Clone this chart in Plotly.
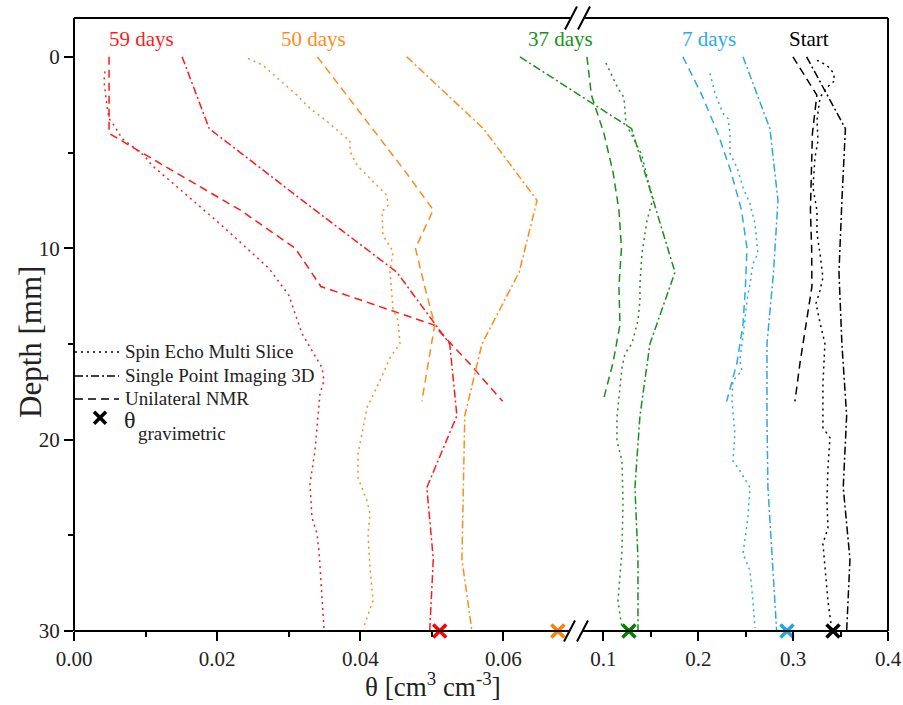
import plotly.graph_objects as go

# ---------------- data ----------------
SPI_DEPTH = [0, 3.75, 7.5, 11.25, 15, 18.75, 22.5, 26.25, 30]
UNI_DEPTH = [0, 2, 4, 6, 8, 10, 12, 14, 16, 18]

# 59 days
spi_59 = [0.0151, 0.0189, 0.0319, 0.0451, 0.0525, 0.0535, 0.0493, 0.0502, 0.0497]
uni_59 = [0.0049, 0.0049, 0.0049, 0.0140, 0.0232, 0.0309, 0.0345, 0.0502, 0.0552, 0.0599]
sems_59_d = [0.76, 1.28, 2.59, 3.22, 3.58, 4.26, 5.15, 5.67, 6.88, 8.82, 11.06, 12.47, 13.41,
             14.46, 15.35, 16.24, 16.92, 17.6, 20.58, 22.31, 24.08, 24.92, 25.81, 28.43, 29.89]
sems_59 = [0.00433, 0.00419, 0.00461, 0.00489, 0.00559, 0.00671, 0.00978, 0.0109, 0.01467,
           0.02068, 0.02725, 0.03004, 0.03088, 0.03186, 0.03325, 0.03465, 0.03493, 0.03437,
           0.03367, 0.03297, 0.03325, 0.03395, 0.03423, 0.03465, 0.03493]

# 50 days
spi_50 = [0.0465, 0.0572, 0.0647, 0.0622, 0.0570, 0.0546, 0.0544, 0.0542, 0.0556]
uni_50 = [0.0340, 0.0381, 0.0422, 0.0463, 0.0502, 0.0477, 0.0490, 0.0504, 0.0495, 0.0486]
sems_50_d = [0.08, 0.44, 1.23, 2.01, 2.69, 3.37, 4.11, 4.37, 4.94, 5.67, 6.51, 7.24, 7.77, 8.08,
             9.33, 10.17, 11.22, 13.15, 13.78, 14.98, 15.72, 16.92, 18.33, 19.69, 20.74, 21.99,
             23.2, 23.88, 24.92, 26.7, 28.43, 29.89]
sems_50 = [0.02431, 0.02641, 0.02878, 0.03116, 0.03297, 0.03535, 0.03759, 0.03856, 0.03856,
           0.03954, 0.04178, 0.04373, 0.04387, 0.04304, 0.04317, 0.04457, 0.04415, 0.04457,
           0.04527, 0.04555, 0.04415, 0.04275, 0.04094, 0.04024, 0.03968, 0.03968, 0.04094,
           0.04136, 0.04108, 0.04136, 0.04178, 0.04038]

# 37 days
spi_37 = [0.0623, 0.1297, 0.1525, 0.1754, 0.1490, 0.1385, 0.1332, 0.1364, 0.1364]
uni_37 = [0.0826, 0.0873, 0.1005, 0.1100, 0.1163, 0.1190, 0.1163, 0.1174, 0.1100, 0.0995]
sems_37_d = [0.32, 1.65, 2.12, 3.48, 4.21, 5.15, 6.46, 7.4, 8.55, 10.28, 11.85, 12.73, 13.78,
             14.98, 15.51, 16.24, 18.85, 20.06, 21.1, 23.2, 25.81, 28.43, 29.84]
sems_37 = [0.1026, 0.1153, 0.1216, 0.1237, 0.1311, 0.1406, 0.1469, 0.1522, 0.1459, 0.1406,
           0.1385, 0.1385, 0.1364, 0.1300, 0.1227, 0.1195, 0.1142, 0.1142, 0.1195, 0.1206,
           0.1195, 0.1153, 0.1195]

# 7 days
spi_7 = [0.2471, 0.2755, 0.2840, 0.2793, 0.2724, 0.2724, 0.2734, 0.2782, 0.2826]
uni_7 = [0.1838, 0.2038, 0.2207, 0.2344, 0.2455, 0.2513, 0.2497, 0.2471, 0.2407, 0.2299]
sems_7_d = [0.86, 1.91, 2.95, 3.22, 4.0, 5.05, 5.78, 6.83, 7.66, 8.71, 10.28, 10.8, 11.85, 12.73,
            14.2, 15.87, 16.4, 16.92, 17.97, 19.69, 21.1, 21.63, 22.52, 24.08, 25.96, 26.85,
            28.43, 29.84]
sems_7 = [0.2123, 0.2176, 0.2260, 0.2313, 0.2334, 0.2334, 0.2408, 0.2471, 0.2545, 0.2597,
          0.2629, 0.2576, 0.2545, 0.2513, 0.2481, 0.2439, 0.2460, 0.2365, 0.2355, 0.2386,
          0.2365, 0.2439, 0.2545, 0.2523, 0.2471, 0.2545, 0.2576, 0.2597]

# Start
spi_0 = [0.3142, 0.3551, 0.3514, 0.3483, 0.3514, 0.3564, 0.3528, 0.3599, 0.3564]
uni_0 = [0.2998, 0.3250, 0.3203, 0.3193, 0.3182, 0.3195, 0.3198, 0.3135, 0.3072, 0.3019]
sems_0_d = [0.18, 0.44, 0.81, 1.23, 1.6, 2.12, 3.32, 4.37, 5.26, 6.83, 8.03, 9.23, 10.28, 11.53,
            12.21, 12.89, 13.89, 14.98, 17.08, 19.38, 19.9, 21.47, 23.2, 24.61, 25.44, 26.7,
            28.43, 30.0]
sems_0 = [0.3251, 0.3356, 0.3420, 0.3441, 0.3356, 0.3283, 0.3251, 0.3262, 0.3230, 0.3209,
          0.3251, 0.3251, 0.3283, 0.3314, 0.3283, 0.3241, 0.3283, 0.3335, 0.3314, 0.3314,
          0.3388, 0.3367, 0.3356, 0.3367, 0.3314, 0.3335, 0.3367, 0.3409]

# gravimetric water content (plotted at depth 30)
grav_vals = [0.0511, 0.0676, 0.1269, 0.2935, 0.3420]
grav_depth = 30

series_names = ["59 days", "50 days", "37 days", "7 days", "Start"]
colors = ["#FF1A1A", "#FF8C1A", "#1A8F1A", "#2AAAE6", "#000000"]
marker_colors = ["#FF0000", "#FF8000", "#008000", "#1EA5E6", "#000000"]

# x tick values
major_ticks = [0.0, 0.02, 0.04, 0.06, 0.1, 0.2, 0.3, 0.4]
major_labels = ["0.00", "0.02", "0.04", "0.06", "0.1", "0.2", "0.3", "0.4"]
minor_ticks = [0.01, 0.03, 0.05, 0.15, 0.25, 0.35]

# ---------------- broken x scale ----------------
BREAK = 0.07
XMAX = 0.4
LEFT_LEN = 501.0     # axis units of left segment
RIGHT_LEN = 313.0    # axis units of right segment


def brk(v):
    if v <= BREAK:
        return v / BREAK * LEFT_LEN
    return LEFT_LEN + (v - BREAK) / (XMAX - BREAK) * RIGHT_LEN


def bl(vals):
    return [brk(v) for v in vals]


# page geometry (pixels)
W, H = 903, 705
PL, PR, PT, PB = 74, 888, 17.5, 631.5


def px(x):
    return (x - PL) / (PR - PL)


def py(y):
    return (PB - y) / (PB - PT)


FONT = "Liberation Serif"
DOT = "2px,4px"
DASH = "8px,5px"
DASHDOT = "8px,3px,2px,3px"

fig = go.Figure()

groups = [
    (spi_59, uni_59, sems_59_d, sems_59),
    (spi_50, uni_50, sems_50_d, sems_50),
    (spi_37, uni_37, sems_37_d, sems_37),
    (spi_7, uni_7, sems_7_d, sems_7),
    (spi_0, uni_0, sems_0_d, sems_0),
]

for (spi, uni, sd, sv), col, name in zip(groups, colors, series_names):
    fig.add_trace(go.Scatter(x=bl(sv), y=sd, mode="lines", name=name + " SEMS",
                             line=dict(color=col, width=1.5, dash=DOT), showlegend=False))
    fig.add_trace(go.Scatter(x=bl(spi), y=SPI_DEPTH, mode="lines", name=name + " SPI",
                             line=dict(color=col, width=1.5, dash=DASHDOT), showlegend=False))
    fig.add_trace(go.Scatter(x=bl(uni), y=UNI_DEPTH, mode="lines", name=name + " UNMR",
                             line=dict(color=col, width=1.5, dash=DASH), showlegend=False))

fig.add_trace(go.Scatter(x=bl(grav_vals), y=[grav_depth] * len(grav_vals), mode="markers",
                         marker=dict(symbol="x-thin", size=13, color=marker_colors,
                                     line=dict(width=3.5, color=marker_colors)),
                         cliponaxis=False, showlegend=False))

shapes = []
lk = dict(color="black", width=2)
# frame with break gaps
gap_l, gap_r = 570, 583
for y in (PT, PB):
    shapes.append(dict(type="line", xref="paper", yref="paper", x0=px(PL), x1=px(gap_l),
                       y0=py(y), y1=py(y), line=lk))
    shapes.append(dict(type="line", xref="paper", yref="paper", x0=px(gap_r), x1=px(PR),
                       y0=py(y), y1=py(y), line=lk))
for x in (PL, PR):
    shapes.append(dict(type="line", xref="paper", yref="paper", x0=px(x), x1=px(x),
                       y0=py(PT), y1=py(PB), line=lk))
# break marks
for (x0, y0, x1, y1) in [(564, 642, 575, 621), (577, 642, 588, 621),
                         (565, 29, 577, 6), (578, 29, 590, 6)]:
    shapes.append(dict(type="line", xref="paper", yref="paper", x0=px(x0), x1=px(x1),
                       y0=py(y0), y1=py(y1), line=dict(color="black", width=2)))

# manual legend
leg_rows = [("Spin Echo Multi Slice", DOT, 352), ("Single Point Imaging 3D", DASHDOT, 376),
            ("Unilateral NMR", DASH, 399)]
annotations = []
for txt, dsh, yy in leg_rows:
    shapes.append(dict(type="line", xref="paper", yref="paper", x0=px(75), x1=px(119),
                       y0=py(yy), y1=py(yy), line=dict(color="black", width=1.5, dash=dsh)))
    annotations.append(dict(text=txt, xref="paper", yref="paper", x=px(123), y=py(yy),
                            xanchor="left", yanchor="middle", showarrow=False,
                            font=dict(family=FONT, size=19, color="#222")))
# legend X
for (a, b, c, d) in [(94, 412, 106, 424), (94, 424, 106, 412)]:
    shapes.append(dict(type="line", xref="paper", yref="paper", x0=px(a), x1=px(c),
                       y0=py(b), y1=py(d), line=dict(color="black", width=3.5)))
annotations.append(dict(text="θ", xref="paper", yref="paper",
                        x=px(122), y=py(420), xanchor="left", yanchor="middle",
                        showarrow=False, font=dict(family=FONT, size=24, color="#222")))
annotations.append(dict(text="gravimetric", xref="paper", yref="paper",
                        x=px(136), y=py(434), xanchor="left", yanchor="middle",
                        showarrow=False, font=dict(family=FONT, size=19, color="#222")))

# series labels
label_pos = [141, 313, 560, 709, 809]
for name, col, xx in zip(series_names, colors, label_pos):
    annotations.append(dict(text=name, xref="paper", yref="paper", x=px(xx), y=py(39),
                            xanchor="center", yanchor="middle", showarrow=False,
                            font=dict(family=FONT, size=21, color=col)))

# axis titles
annotations.append(dict(text="θ [cm<sup>3</sup> cm<sup>-3</sup>]", xref="paper", yref="paper",
                        x=px(433), y=py(686), xanchor="center", yanchor="middle",
                        showarrow=False, font=dict(family=FONT, size=27, color="#222")))
annotations.append(dict(text="Depth [mm]", xref="paper", yref="paper", x=px(31), y=py(342),
                        xanchor="center", yanchor="middle", textangle=-90, showarrow=False,
                        font=dict(family=FONT, size=31, color="#222")))

fig.update_layout(
    width=W, height=H,
    margin=dict(l=PL, r=W - PR, t=PT, b=H - PB, autoexpand=False),
    plot_bgcolor="white", paper_bgcolor="white",
    shapes=shapes, annotations=annotations,
    showlegend=False,
    xaxis=dict(range=[0, LEFT_LEN + RIGHT_LEN], showgrid=False, zeroline=False, showline=False,
               tickmode="array", tickvals=bl(major_ticks), ticktext=major_labels,
               ticks="outside", ticklen=9, tickwidth=1.5, tickcolor="black",
               tickfont=dict(family=FONT, size=21, color="#222"),
               minor=dict(tickmode="array", tickvals=bl(minor_ticks), ticks="outside",
                          ticklen=5, tickwidth=1.5, tickcolor="black", showgrid=False)),
    yaxis=dict(range=[30, -2.03], showgrid=False, zeroline=False, showline=False,
               tickmode="array", tickvals=[0, 10, 20, 30],
               ticks="outside", ticklen=9, tickwidth=1.5, tickcolor="black",
               tickfont=dict(family=FONT, size=21, color="#222"),
               minor=dict(tickmode="array", tickvals=[5, 15, 25], ticks="outside",
                          ticklen=5, tickwidth=1.5, tickcolor="black", showgrid=False)),
)

fig.write_html("out.html", config={"displayModeBar": False},
               post_script="document.body.style.margin='0';document.body.style.overflow='hidden';")
